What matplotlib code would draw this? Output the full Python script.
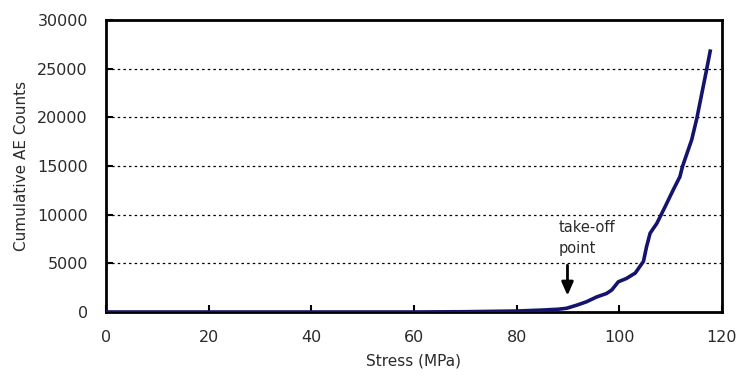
import matplotlib.pyplot as plt

# cumulative AE counts vs applied stress
stress = [0, 20, 40, 60, 70, 80, 85, 88, 89.7, 91.7, 93.6, 95.6, 97.5, 98.5,
          99.8, 101.4, 103.1, 104.7, 105.3, 106.0, 107.3, 108.9, 110.5,
          111.8, 112.3, 114.1, 115.1, 117.0, 117.7]
counts = [0, 0, 0, 0, 30, 100, 200, 280, 380, 700, 1050, 1550, 1900, 2250,
          3100, 3450, 4000, 5200, 6700, 8100, 9100, 10800, 12550,
          13900, 14950, 17700, 19900, 24900, 26800]

x_ticks = [0, 20, 40, 60, 80, 100, 120]
y_ticks = [0, 5000, 10000, 15000, 20000, 25000, 30000]

txt = "#2a2a2a"

fig = plt.figure(figsize=(7.38, 3.77), dpi=100)
ax = fig.add_axes([106 / 738, 1 - 312 / 377, 616 / 738, 292 / 377])

for y in y_ticks[1:-1]:
    ax.axhline(y, color="black", lw=0.9, ls=(0, (2, 2.5)), zorder=1)

ax.plot(stress, counts, color="#14146e", lw=2.6, solid_joinstyle="round", zorder=3)

ax.annotate("", xy=(89.9, 1400), xytext=(89.9, 5100),
            arrowprops=dict(arrowstyle="-|>,head_width=0.35,head_length=0.8",
                            color="black", lw=2))
ax.text(88.1, 8700, "take-off", fontsize=10.5, ha="left", va="center", color=txt)
ax.text(88.1, 6500, "point", fontsize=10.5, ha="left", va="center", color=txt)

ax.set_xlim(0, 120)
ax.set_ylim(0, 30000)
ax.set_xticks(x_ticks)
ax.set_yticks(y_ticks)
ax.tick_params(direction="in", length=5, width=1.5, labelsize=11.5,
               color="black", labelcolor=txt)
ax.tick_params(axis="x", pad=13)
ax.tick_params(axis="y", pad=13)
for s in ax.spines.values():
    s.set_linewidth(2)

ax.set_xlabel("Stress (MPa)", fontsize=11, labelpad=6, color=txt)
ax.set_ylabel("Cumulative AE Counts", fontsize=11, labelpad=6, color=txt)

fig.savefig("out.png", dpi=100)
